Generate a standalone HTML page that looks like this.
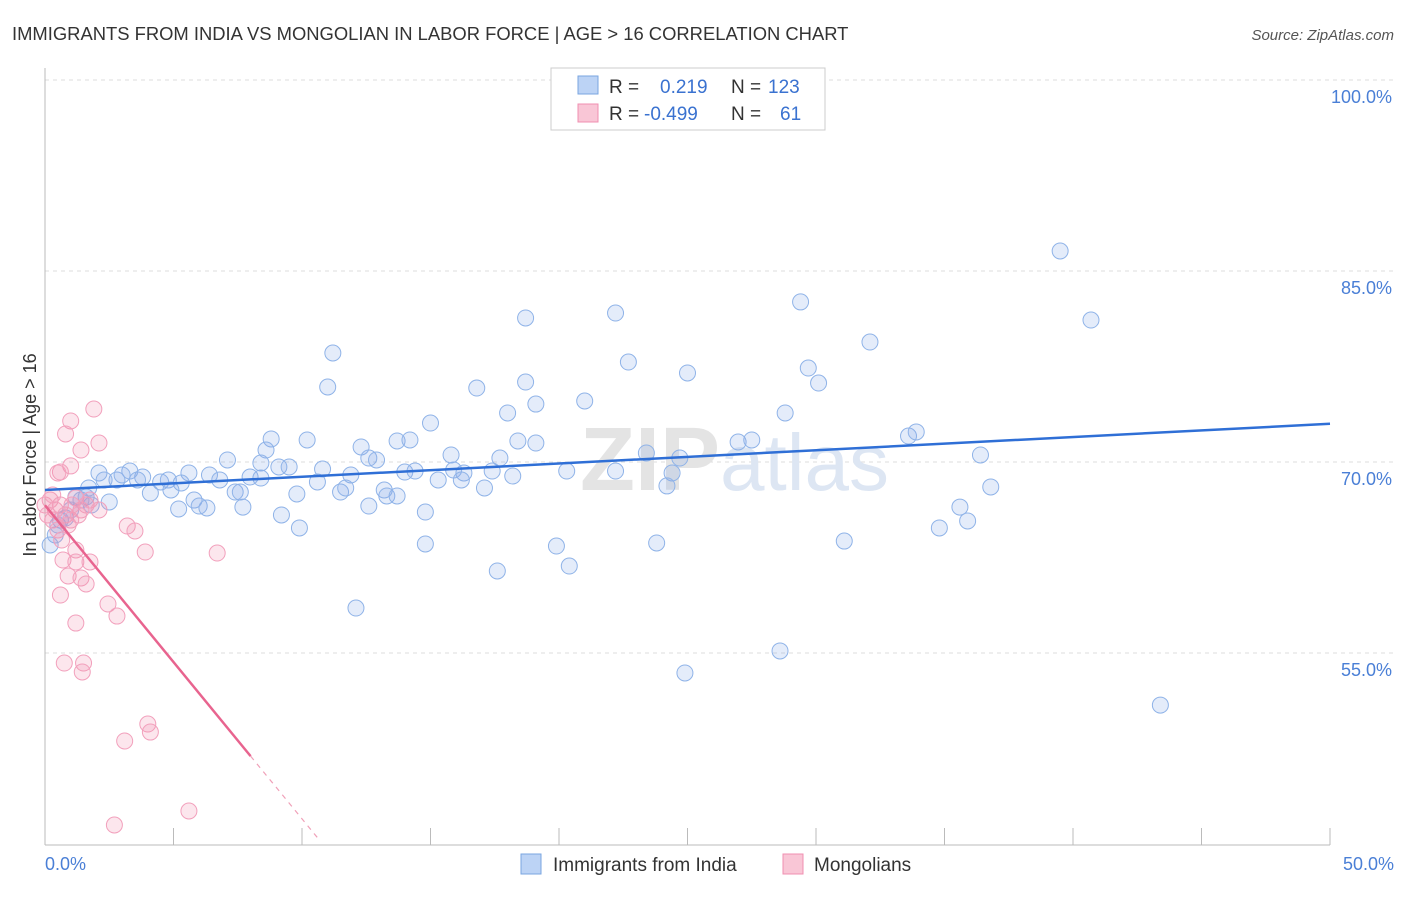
<!DOCTYPE html>
<html><head><meta charset="utf-8"><style>
body{margin:0;background:#fff;font-family:"Liberation Sans",sans-serif;}
svg text{font-family:"Liberation Sans",sans-serif;}
</style></head><body>
<svg width="1406" height="892">
<text x="12" y="40" font-size="18.4" fill="#333">IMMIGRANTS FROM INDIA VS MONGOLIAN IN LABOR FORCE | AGE &gt; 16 CORRELATION CHART</text>
<text x="1394" y="40" font-size="15" fill="#555" font-style="italic" text-anchor="end">Source: ZipAtlas.com</text>
<g id="grid"></g>
<text x="720" y="490" font-size="90" fill="#e4e4e4" font-family="Liberation Serif" font-weight="bold" text-anchor="end">ZIP</text>
<text x="720" y="490" font-size="80" fill="#dde6f3">atlas</text>
<g id="pts"></g>
<g id="lines"></g>
<text x="36" y="455" font-size="18" fill="#333" transform="rotate(-90 36 455)" text-anchor="middle">In Labor Force | Age &gt; 16</text>
<text x="45" y="870" font-size="18" fill="#4a7fd6">0.0%</text>
<text x="1394" y="870" font-size="18" fill="#4a7fd6" text-anchor="end">50.0%</text>
<g>
<rect x="551" y="68" width="274" height="62" fill="#fff" stroke="#ccc"/>
<rect x="578" y="76" width="20" height="18" fill="#bcd3f5" stroke="#7aa6e0"/>
<rect x="578" y="104" width="20" height="18" fill="#f9c6d6" stroke="#f08fb0"/>
<text x="609" y="93" font-size="19" fill="#333">R =</text>
<text x="660" y="93" font-size="19" fill="#3a72d0">0.219</text>
<text x="731" y="93" font-size="19" fill="#333">N =</text>
<text x="768" y="93" font-size="19" fill="#3a72d0">123</text>
<text x="609" y="120" font-size="19" fill="#333">R =</text>
<text x="644" y="120" font-size="19" fill="#3a72d0">-0.499</text>
<text x="731" y="120" font-size="19" fill="#333">N =</text>
<text x="780" y="120" font-size="19" fill="#3a72d0">61</text>
</g>
<g>
<rect x="521" y="854" width="20" height="20" fill="#bcd3f5" stroke="#7aa6e0"/>
<text x="553" y="871" font-size="19" fill="#333">Immigrants from India</text>
<rect x="783" y="854" width="20" height="20" fill="#f9c6d6" stroke="#f08fb0"/>
<text x="814" y="871" font-size="19" fill="#333">Mongolians</text>
</g>
</svg>
<script>
const yTicks=[55,70,85,100];
const yTickLabels=["55.0%","70.0%","85.0%","100.0%"];
const xTicks=[0,5,10,15,20,25,30,35,40,45,50];
const blueX=[39.5,40.7,29.4,22.2,18.7,32.1,11.2,22.7,29.7,25.0,11.0,18.7,16.8,30.1,21.0,19.1,18.0,28.8,15.0,8.8,10.2,13.7,14.2,18.4,19.1,12.3,26.97,27.5,33.6,33.9,8.6,15.8,12.6,12.9,17.7,23.4,24.7,36.4,7.1,8.4,9.1,9.5,10.8,11.9,14.0,14.4,15.9,16.3,17.4,20.3,22.2,24.4,2.1,3.3,3.8,5.6,6.4,7.98,8.4,2.8,3.6,4.5,4.8,5.3,6.8,7.4,7.6,10.6,11.5,11.7,13.2,13.3,13.7,15.3,16.2,17.1,18.2,24.2,36.8,1.2,1.6,4.1,4.9,5.8,6.0,6.3,7.7,9.8,12.6,2.5,1.8,5.2,9.2,9.9,14.8,35.6,35.9,34.8,31.1,19.9,14.8,23.8,20.4,17.6,12.1,28.6,24.9,43.4,0.6,0.4,0.5,0.8,1.0,1.4,1.7,2.3,3.0,0.2];
const blueY=[86.57,81.15,82.57,81.7,81.31,79.42,78.56,77.85,77.38,76.99,75.89,76.28,75.81,76.2,74.79,74.55,73.85,73.85,73.06,71.81,71.73,71.65,71.73,71.65,71.49,71.18,71.57,71.73,72.04,72.36,70.94,70.55,70.31,70.16,70.31,70.71,70.31,70.55,70.16,69.92,69.61,69.61,69.45,68.98,69.21,69.29,69.37,69.14,69.29,69.29,69.29,69.14,69.14,69.29,68.82,69.14,68.98,68.82,68.74,68.59,68.59,68.43,68.59,68.35,68.59,67.64,67.64,68.43,67.64,67.96,67.8,67.33,67.33,68.59,68.59,67.96,68.9,68.12,68.04,67.25,67.25,67.56,67.8,67.01,66.54,66.39,66.46,67.49,66.54,66.86,66.62,66.31,65.84,64.82,66.07,66.46,65.37,64.82,63.79,63.4,63.56,63.64,61.83,61.44,58.53,55.16,53.43,50.91,65.44,64.27,65.05,65.6,66.23,67.01,67.96,68.59,68.98,63.48];
const pinkX=[1.9,1.0,0.8,2.1,1.4,1.0,0.6,0.5,3.2,3.5,3.9,6.7,1.2,0.7,1.2,1.75,0.9,1.4,1.6,0.6,2.45,2.8,1.2,0.75,1.5,1.45,4.0,4.1,3.1,5.6,2.7,0.2,0.4,0.6,0.8,1.0,1.2,1.4,1.6,1.75,2.1,0.3,0.5,0.65,0.9,1.05,0.0,0.1,0.3,1.3];
const pinkY=[74.16,73.22,72.2,71.49,70.94,69.69,69.21,69.14,64.97,64.58,62.93,62.85,63.09,62.3,62.15,62.15,61.05,60.89,60.42,59.55,58.85,57.9,57.35,54.21,54.21,53.51,49.42,48.79,48.09,42.59,41.49,67.01,66.23,66.62,65.84,65.44,67.17,66.23,66.62,67.01,66.23,65.44,64.66,63.87,65.05,66.62,66.62,65.84,67.41,65.84];
const blueLine=[[0,67.8],[50,73.0]];
const pinkLine=[[0,66.6],[8.0,46.9]];
const pinkDash=[[8.0,46.9],[10.6,40.5]];
const X=v=>45+v*25.7, Y=v=>80+(100-v)*12.733;
const NS="http://www.w3.org/2000/svg";
function mk(t,a,p){const e=document.createElementNS(NS,t);for(const k in a)e.setAttribute(k,a[k]);p.appendChild(e);return e;}
const grid=document.getElementById('grid');
yTicks.forEach((v,i)=>{
 const l=mk('line',{x1:45,x2:1394,y1:Y(v),y2:Y(v),stroke:'#ddd','stroke-dasharray':'4 4'},grid);
 
 
 const t=mk('text',{x:1392,y:Y(v)+23,'font-size':18,fill:'#4a7fd6','text-anchor':'end'},grid);
 t.textContent=yTickLabels[i];
 
 
});
const ax=mk('line',{x1:45,x2:45,y1:68,y2:845,stroke:'#bbb'},grid);


const bx=mk('line',{x1:45,x2:1330,y1:845,y2:845,stroke:'#bbb'},grid);


xTicks.forEach(v=>{const t=mk('line',{x1:X(v),x2:X(v),y1:828,y2:845,stroke:'#bbb'},grid);
 
 });
const pts=document.getElementById('pts');
blueX.forEach((x,i)=>{const c=mk('circle',{cx:X(x),cy:Y(blueY[i]),r:8,fill:'rgba(130,170,230,0.22)',stroke:'#8fb3e8','stroke-width':1},pts);
 
 });
pinkX.forEach((x,i)=>{const c=mk('circle',{cx:X(x),cy:Y(pinkY[i]),r:8,fill:'rgba(240,140,175,0.22)',stroke:'#f2a0bc','stroke-width':1},pts);
 
 });
const lines=document.getElementById('lines');
const b=mk('line',{x1:X(blueLine[0][0]),y1:Y(blueLine[0][1]),x2:X(blueLine[1][0]),y2:Y(blueLine[1][1]),stroke:'#2f6fd6','stroke-width':2.5},lines);


const p=mk('line',{x1:X(pinkLine[0][0]),y1:Y(pinkLine[0][1]),x2:X(pinkLine[1][0]),y2:Y(pinkLine[1][1]),stroke:'#e8648f','stroke-width':2.5},lines);


const d=mk('line',{x1:X(pinkDash[0][0]),y1:Y(pinkDash[0][1]),x2:X(pinkDash[1][0]),y2:Y(pinkDash[1][1]),stroke:'#f0a0b8','stroke-width':1.2,'stroke-dasharray':'5 5'},lines);


</script>
</body></html>
